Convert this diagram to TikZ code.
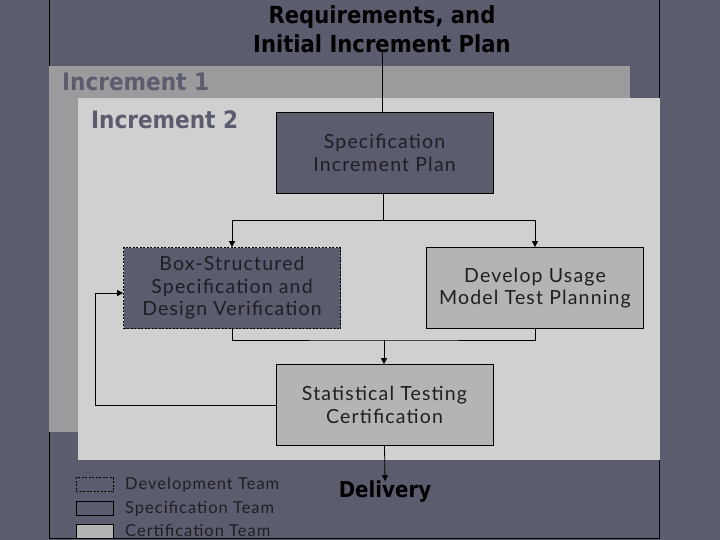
\documentclass[tikz,border=0pt]{standalone}
\usepackage{fontspec}
\setmainfont{Lato}
\newfontfamily\boxfont[LetterSpace=6]{Lato}
\newfontfamily\cond[BoldFont={DejaVu Sans Condensed Bold}]{DejaVu Sans Condensed}
\usetikzlibrary{arrows.meta}
\definecolor{bg}{HTML}{5B5D6F}
\definecolor{incone}{HTML}{9B9B9E}
\definecolor{inctwo}{HTML}{D0D0D0}
\definecolor{cert}{HTML}{B4B4B4}
\definecolor{dtext}{HTML}{1E1E24}
\tikzset{
  box/.style={draw=black, line width=0.8pt, minimum width=217pt, minimum height=81pt, align=center, font=\boxfont\fontsize{19.5}{22.5}\selectfont\color{dtext}, text=dtext},
  specbox/.style={box, fill=bg},
  devbox/.style={box, fill=bg, dash pattern=on 2pt off 1.5pt},
  certbox/.style={box, fill=cert},
  conn/.style={line width=0.8pt, -{Triangle[length=6pt,width=6pt]}},
  plain/.style={line width=0.8pt},
  legbox/.style={draw=black, line width=0.8pt, minimum width=37pt, minimum height=14pt, inner sep=0pt},
  legtext/.style={anchor=west, text=dtext, font=\boxfont\fontsize{16.5}{18}\selectfont\color{dtext}, inner sep=0pt},
  inclabel/.style={anchor=west, text=bg, font=\cond\bfseries\fontsize{24}{28}\selectfont, inner sep=0pt}
}
\begin{document}
\begin{tikzpicture}[x=1pt,y=-1pt]
\useasboundingbox (0,0) rectangle (720,540);
\fill[bg] (0,0) rectangle (720,540);
\draw[black, line width=0.8pt] (49,-2) rectangle (659,538);
\fill[incone] (49,66) rectangle (630,432);
\fill[inctwo] (78,98) rectangle (660,460);
\node[inclabel] (inc1) at (62,82) {Increment 1};
\node[inclabel] (inc2) at (91,120) {Increment 2};
\node[align=center, font=\cond\bfseries\fontsize{23.5}{29}\selectfont, text=black, inner sep=0pt] (req) at (382,29) {Requirements, and\\Initial Increment Plan};
\node[specbox] (spec) at (384.5,153) {Specification\\Increment Plan};
\node[devbox] (bsv) at (232,288) {Box-Structured\\Specification and\\Design Verification};
\node[certbox] (dum) at (535,288) {Develop Usage\\Model Test Planning};
\node[certbox] (stc) at (384.5,405) {Statistical Testing\\Certification};
\node[font=\cond\bfseries\fontsize{22}{26}\selectfont, text=black, inner sep=0pt] (del) at (385,492) {Delivery};
\coordinate (j1) at (383,220);
\coordinate (j2) at (384,340);
\coordinate (fbu) at (95,293);
\draw[plain] (req.south) -- (req.south |- spec.north);
\draw[plain] (j1 |- spec.south) -- (j1);
\draw[conn] (j1) -| (bsv.north);
\draw[conn] (j1) -| (dum.north);
\draw[plain] (bsv.south) |- (j2) -| (dum.south);
\draw[conn] (j2) -- (j2 |- stc.north);
\draw[conn] (stc.west) -| (fbu) -- (fbu -| bsv.west);
\draw[conn] (stc.south) -- (del.north);
\node[legbox, fill=bg, dash pattern=on 2pt off 1.5pt] (l1) at (94.5,484.5) {};
\node[legbox, fill=bg] (l2) at (94.5,508.5) {};
\node[legbox, fill=cert] (l3) at (94.5,531.5) {};
\node[legtext] (t1) at (125,484.5) {Development Team};
\node[legtext] (t2) at (125,508.5) {Specification Team};
\node[legtext] (t3) at (125,530.5) {Certification Team};
\end{tikzpicture}
\end{document}
